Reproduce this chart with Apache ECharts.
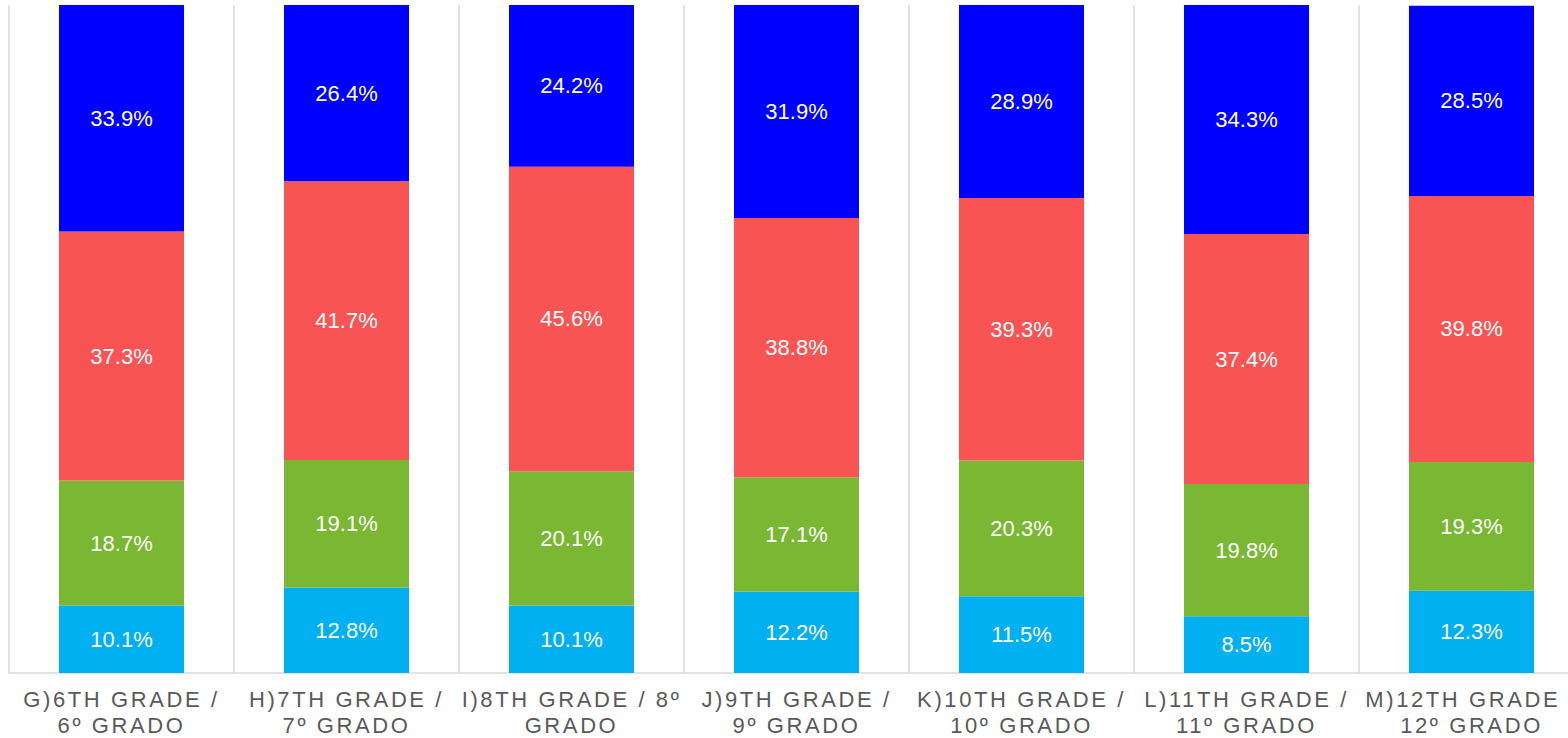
<!DOCTYPE html>
<html>
<head>
<meta charset="utf-8">
<script src="https://cdn.jsdelivr.net/npm/echarts@6/dist/echarts.min.js"></script>
<style>
html,body{margin:0;padding:0;background:#fff;overflow:hidden;width:1568px;height:738px;}
#chart{width:1584px;height:738px;}
#chart text[fill="#595959"], #chart text[fill="rgb(89,89,89)"], #chart text[fill="rgb(89, 89, 89)"]{letter-spacing:2.6px;}
</style>
</head>
<body>
<div id="chart"></div>
<script>
const categories = [
  "G)6TH GRADE /\n6º GRADO",
  "H)7TH GRADE /\n7º GRADO",
  "I)8TH GRADE / 8º\nGRADO",
  "J)9TH GRADE /\n9º GRADO",
  "K)10TH GRADE /\n10º GRADO",
  "L)11TH GRADE /\n11º GRADO",
  "M)12TH GRADE /\n12º GRADO"
];
const seriesNames = ["Serie 1", "Serie 2", "Serie 3", "Serie 4"];
const lightBlueValues = [10.1, 12.8, 10.1, 12.2, 11.5, 8.5, 12.3];
const greenValues     = [18.7, 19.1, 20.1, 17.1, 20.3, 19.8, 19.3];
const redValues       = [37.3, 41.7, 45.6, 38.8, 39.3, 37.4, 39.8];
const blueValues      = [33.9, 26.4, 24.2, 31.9, 28.9, 34.3, 28.5];
const colors = ["#00B0F0", "#7AB733", "#F95454", "#0000FF"];

const chart = echarts.init(document.getElementById('chart'), null, {renderer: 'svg'});
const allValues = [lightBlueValues, greenValues, redValues, blueValues];
const series = allValues.map((vals, i) => ({
  name: seriesNames[i],
  type: 'bar',
  stack: 'total',
  barWidth: 125,
  data: vals,
  itemStyle: {color: colors[i]},
  label: {
    show: true,
    position: 'inside',
    color: '#ffffff',
    fontSize: 22,
    fontFamily: 'Liberation Sans, Arial, sans-serif',
    formatter: p => p.value.toFixed(1) + '%'
  }
}));

chart.setOption({
  animation: false,
  grid: {left: 9, top: 5, right: 0, height: 668, containLabel: false, outerBoundsMode: 'none'},
  xAxis: {
    type: 'category',
    data: categories,
    axisLine: {show: true, lineStyle: {color: '#D9D9D9', width: 1.5}},
    axisTick: {show: false},
    splitLine: {show: true, lineStyle: {color: '#D9D9D9', width: 1.5}},
    axisLabel: {
      interval: 0,
      color: '#595959',
      fontSize: 22,
      lineHeight: 26,
      margin: 13,
      fontFamily: 'Liberation Sans, Arial, sans-serif'
    }
  },
  yAxis: {
    type: 'value',
    min: 0,
    max: 100,
    show: false,
    splitLine: {show: false}
  },
  series: series
});
</script>
</body>
</html>
